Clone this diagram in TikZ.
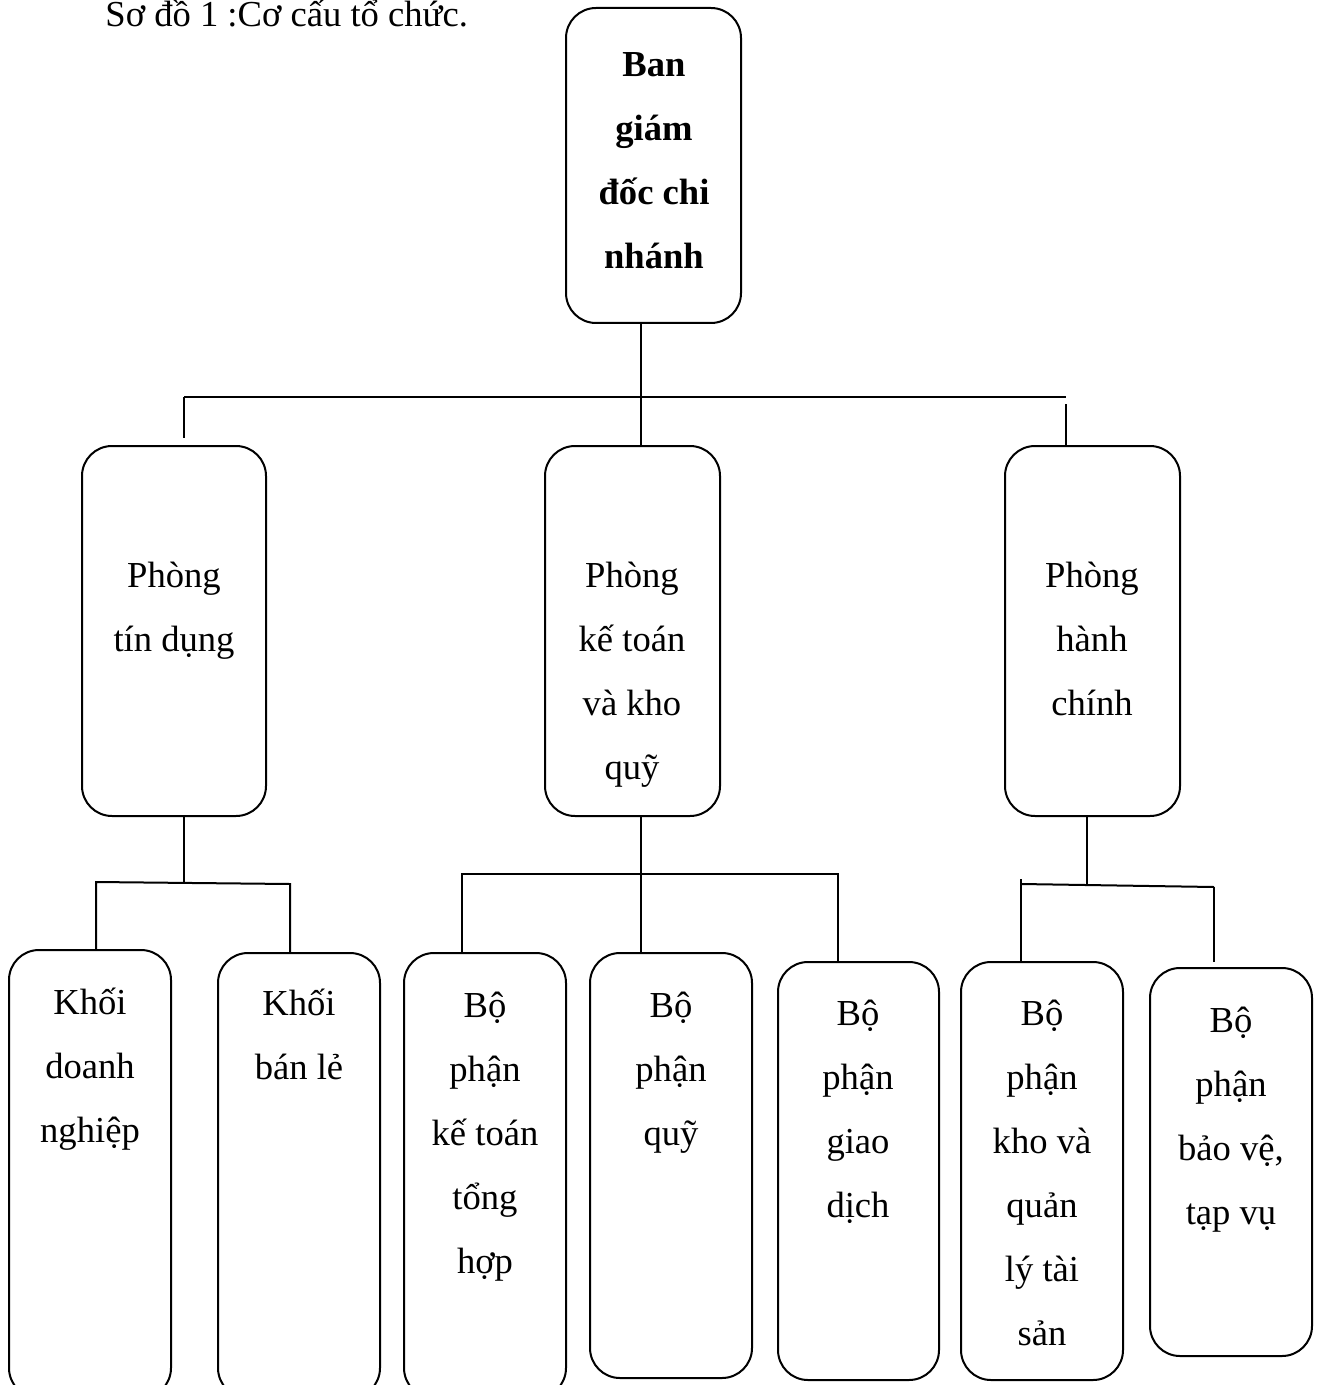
\documentclass[tikz,border=0pt]{standalone}
\usepackage{fontspec}
\setmainfont{Liberation Serif}
\usetikzlibrary{fit}
\newcommand{\lns}[1]{\begin{tabular}[t]{@{}c@{}}#1\end{tabular}}
\begin{document}
\begin{tikzpicture}[x=0.5pt,y=-0.5pt,
  box/.style={draw, rounded corners=15pt, line width=1pt, inner sep=0pt},
  txt/.style={anchor=base, inner sep=0pt, font=\fontsize{18.3pt}{32pt}\selectfont},
  conn/.style={line width=1pt}]
\fill[white] (0,0) rectangle (1317,1385);
\useasboundingbox (0,0) rectangle (1317,1385);
\clip (0,0) rectangle (1317,1385);

% title
\node[txt, anchor=base west] (title) at (105,27) {Sơ đồ 1 :Cơ cấu tổ chức.};

% boxes
\node[box, fit={(566,8) (741,323)}] (top) {};
\node[box, fit={(82,446) (266,816)}] (p1) {};
\node[box, fit={(545,446) (720,816)}] (p2) {};
\node[box, fit={(1005,446) (1180,816)}] (p3) {};
\node[box, fit={(9,950) (171,1398)}] (b1) {};
\node[box, fit={(218,953) (380,1398)}] (b2) {};
\node[box, fit={(404,953) (566,1398)}] (b3) {};
\node[box, fit={(590,953) (752,1378)}] (b4) {};
\node[box, fit={(778,962) (939,1380)}] (b5) {};
\node[box, fit={(961,962) (1123,1380)}] (b6) {};
\node[box, fit={(1150,968) (1312,1356)}] (b7) {};

% texts
\node[txt] (ttop) at (654,77) {\bfseries\lns{Ban\\giám\\đốc chi\\nhánh}};
\node[txt] (tp1) at (174,587) {\lns{Phòng\\tín dụng}};
\node[txt] (tp2) at (632,587) {\lns{Phòng\\kế toán\\và kho\\quỹ}};
\node[txt] (tp3) at (1092,587) {\lns{Phòng\\hành\\chính}};
\node[txt] (tb1) at (90,1014) {\lns{Khối\\doanh\\nghiệp}};
\node[txt] (tb2) at (299,1015) {\lns{Khối\\bán lẻ}};
\node[txt] (tb3) at (485,1017) {\lns{Bộ\\phận\\kế toán\\tổng\\hợp}};
\node[txt] (tb4) at (671,1017) {\lns{Bộ\\phận\\quỹ}};
\node[txt] (tb5) at (858,1025) {\lns{Bộ\\phận\\giao\\dịch}};
\node[txt] (tb6) at (1042,1025) {\lns{Bộ\\phận\\kho và\\quản\\lý tài\\sản}};
\node[txt] (tb7) at (1231,1032) {\lns{Bộ\\phận\\bảo vệ,\\tạp vụ}};

% junction coordinates
\coordinate (jt) at (641,397);
\coordinate (hL) at (184,397);
\coordinate (hR) at (1066,397);
\coordinate (lJ) at (184,883);
\coordinate (lA) at (96,882);
\coordinate (lB) at (290,884);
\coordinate (mJ) at (641,874);
\coordinate (mA) at (462,874);
\coordinate (mB) at (838,874);
\coordinate (rJ) at (1087,884);
\coordinate (rA) at (1021,884);
\coordinate (rAt) at (1021,879);
\coordinate (rB) at (1214,887);

% level 1 connectors
\draw[conn] (top.south -| jt) -- (jt);
\draw[conn] (hL) -- (hR);
\draw[conn, shorten >=3.5pt] (hL) -- (hL |- p1.north);
\draw[conn] (jt) -- (jt |- p2.north);
\draw[conn, shorten <=3.5pt] (hR) -- (hR |- p3.north);

% level 2 connectors (left)
\draw[conn] (p1.south -| lJ) -- (lJ);
\draw[conn] (lA |- b1.north) -- (lA) -- (lB) -- (lB |- b2.north);

% level 2 connectors (middle)
\draw[conn] (p2.south -| mJ) -- (mJ |- b4.north);
\draw[conn] (mA |- b3.north) -- (mA) -- (mB) -- (mB |- b5.north);

% level 2 connectors (right)
\draw[conn] (p3.south -| rJ) -- (rJ);
\draw[conn] (rA) -- (rB);
\draw[conn] (rAt) -- (rAt |- b6.north);
\draw[conn, shorten >=2.5pt] (rB) -- (rB |- b7.north);
\end{tikzpicture}
\end{document}
